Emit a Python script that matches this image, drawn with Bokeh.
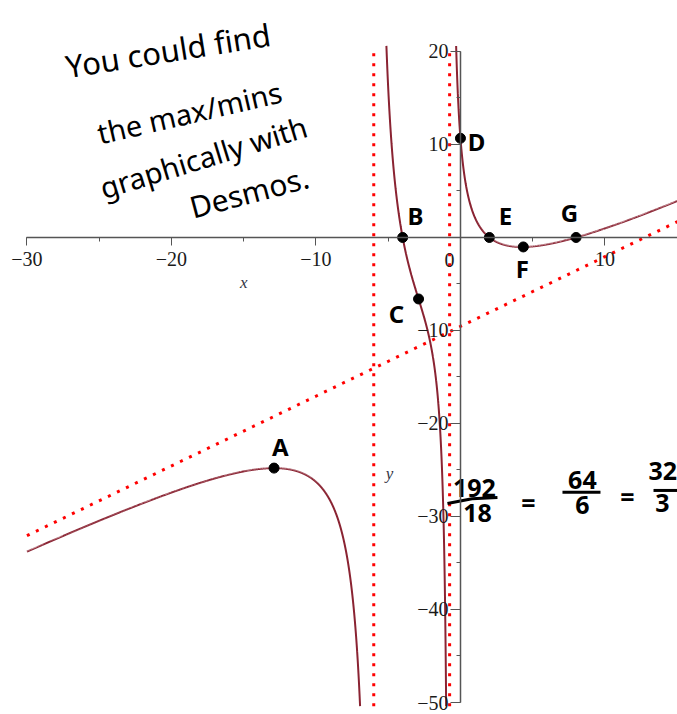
import numpy as np
from bokeh.plotting import figure
from bokeh.models import LinearAxis, SingleIntervalTicker
from bokeh.core.properties import value
from bokeh.embed import file_html
from bokeh.resources import INLINE

# Rational function y = 3 (x+4)(x-2)(x-8) / ((x+6)(4x+3))
num_scale = 3
num_roots = [-4, 2, 8]
den_factors = [[1, 6], [4, 3]]          # (x + 6)(4x + 3)

# Marked points on the curve (x positions)
point_names = ["A", "B", "C", "D", "E", "F", "G"]
point_x = [-12.9, -4, -2.9, 0, 2, 4.35, 8]

# Tick labels
x_ticks = [-30, -20, -10, 0, 10]
x_tick_labels = ["\u221230", "\u221220", "\u221210", "", "10"]
y_ticks = [20, 10, 0, -10, -20, -30, -40, -50]
y_tick_labels = ["20", "10", "", "\u221210", "\u221220", "\u221230", "\u221240", "\u221250"]

# Visible window of the graph
x_view = (-30, 15.1)
y_view = (-50.4, 20.6)
y_axis_span = (-50, 20)

num_poly = num_scale * np.poly(num_roots)
den_poly = np.polymul(den_factors[0], den_factors[1])
poles = sorted(-b / a for a, b in den_factors)
slant, _ = np.polydiv(num_poly, den_poly)


def f(x):
    return np.polyval(num_poly, x) / np.polyval(den_poly, x)


CURVE = "#8a2332"
INK = "black"

p = figure(width=677, height=714,
           x_range=(-31.83, 15.02), y_range=(-51.29, 25.48),
           x_axis_location=None, y_axis_location=None,
           toolbar_location=None, output_backend="svg",
           min_border=0, outline_line_color=None,
           background_fill_color="white", border_fill_color="white")
p.xgrid.visible = False
p.ygrid.visible = False

# Axes crossing at the origin
xax = LinearAxis(fixed_location=0,
                 ticker=SingleIntervalTicker(interval=10, num_minor_ticks=2),
                 bounds=(x_view[0], 16))
xax.major_label_overrides = {t: s for t, s in zip(x_ticks, x_tick_labels)}
yax = LinearAxis(fixed_location=0,
                 ticker=SingleIntervalTicker(interval=10, num_minor_ticks=2),
                 bounds=y_axis_span)
yax.major_label_overrides = {t: s for t, s in zip(y_ticks, y_tick_labels)}
for ax in (xax, yax):
    ax.axis_line_color = "#555555"
    ax.axis_line_width = 1.5
    ax.major_tick_line_color = "#555555"
    ax.minor_tick_line_color = "#555555"
    ax.major_tick_in = 0
    ax.minor_tick_in = 0
    ax.minor_tick_out = 4
    ax.major_label_text_font = "Liberation Serif"
    ax.major_label_text_font_size = "20px"
    ax.major_label_text_color = "#1a1a1a"
xax.major_tick_out = 8
xax.major_label_standoff = 7
yax.major_tick_out = 10
yax.major_label_standoff = 2
p.add_layout(xax, "below")
p.add_layout(yax, "left")

# Asymptotes (red dotted)
for xp in poles:
    p.line([xp, xp], [y_view[0], y_axis_span[1]], line_color="red",
           line_width=3, line_dash="3 7")
sx = np.array(x_view)
p.line(sx, np.polyval(slant, sx), line_color="red", line_width=3,
       line_dash="3 7")

# Curve branches between the poles
edges = [x_view[0]] + poles + [x_view[1]]
for lo, hi in zip(edges[:-1], edges[1:]):
    xs = np.linspace(lo, hi, 40000)[1:-1]
    ys = f(xs)
    ys[(ys < y_view[0]) | (ys > y_view[1])] = np.nan
    p.line(xs, ys, line_color=CURVE, line_width=2)

# Marked points
px = np.array(point_x, dtype=float)
p.scatter(px, f(px), size=10, color=INK)

# Axis names and origin label
p.text(x=[-15.0], y=[-4.84], text=["x"], text_font=value("Liberation Serif"),
       text_font_style="italic", text_font_size="17px", text_color="#333344",
       text_align="center", text_baseline="middle")
p.text(x=[-4.91], y=[-25.4], text=["y"], text_font=value("Liberation Serif"),
       text_font_style="italic", text_font_size="17px", text_color="#333344",
       text_align="center", text_baseline="middle")
p.text(x=[-0.76], y=[-2.47], text=["0"], text_font=value("Liberation Serif"),
       text_font_size="20px", text_color="#1a1a1a",
       text_align="center", text_baseline="middle")

# Point letters
letter_x = [-12.46, -3.11, -4.43, 1.11, 3.11, 4.29, 7.54]
letter_y = [-22.5, 2.37, -8.17, 10.3, 2.37, -3.33, 2.69]
p.text(x=letter_x, y=letter_y, text=point_names, text_font=value("Noto Sans"),
       text_font_style="bold", text_font_size="24px", text_color=INK,
       text_align="center", text_baseline="middle")

# Handwritten note
note_lines = ["You could find", "the max/mins", "graphically with", "Desmos."]
note_x = [-27.3, -25.1, -24.9, -18.7]
note_y = [18.4, 11.2, 5.3, 3.2]
note_angle = [0.157, 0.227, 0.297, 0.26]
note_size = ["31px", "29px", "29px", "30px"]
for t, x0, y0, a, s in zip(note_lines, note_x, note_y, note_angle, note_size):
    p.text(x=[x0], y=[y0], text=[t], angle=a, text_font=value("Noto Sans"),
           text_font_size=s, text_color=INK, text_align="left",
           text_baseline="middle")

# Handwritten arithmetic for D
frac_text = ["192", "18", "=", "64", "6", "=", "32", "3"]
frac_x = [0.97, 1.18, 4.7, 8.44, 8.44, 11.56, 14.0, 13.98]
frac_y = [-26.9, -29.6, -28.4, -26.1, -28.8, -27.85, -25.16, -28.6]
p.text(x=frac_x, y=frac_y, text=frac_text, text_font=value("Noto Sans"),
       text_font_style="bold", text_font_size="25px", text_color=INK,
       text_align="center", text_baseline="middle")
bar_x = [[-0.9, 0.8, 2.56], [7.06, 9.69], [13.36, 15.1]]
bar_y = [[-28.6, -28.1, -27.96], [-27.4, -27.4], [-27.2, -27.2]]
p.multi_line(bar_x, bar_y, line_color=INK, line_width=3)

open("out.html", "w").write(file_html(p, INLINE))
